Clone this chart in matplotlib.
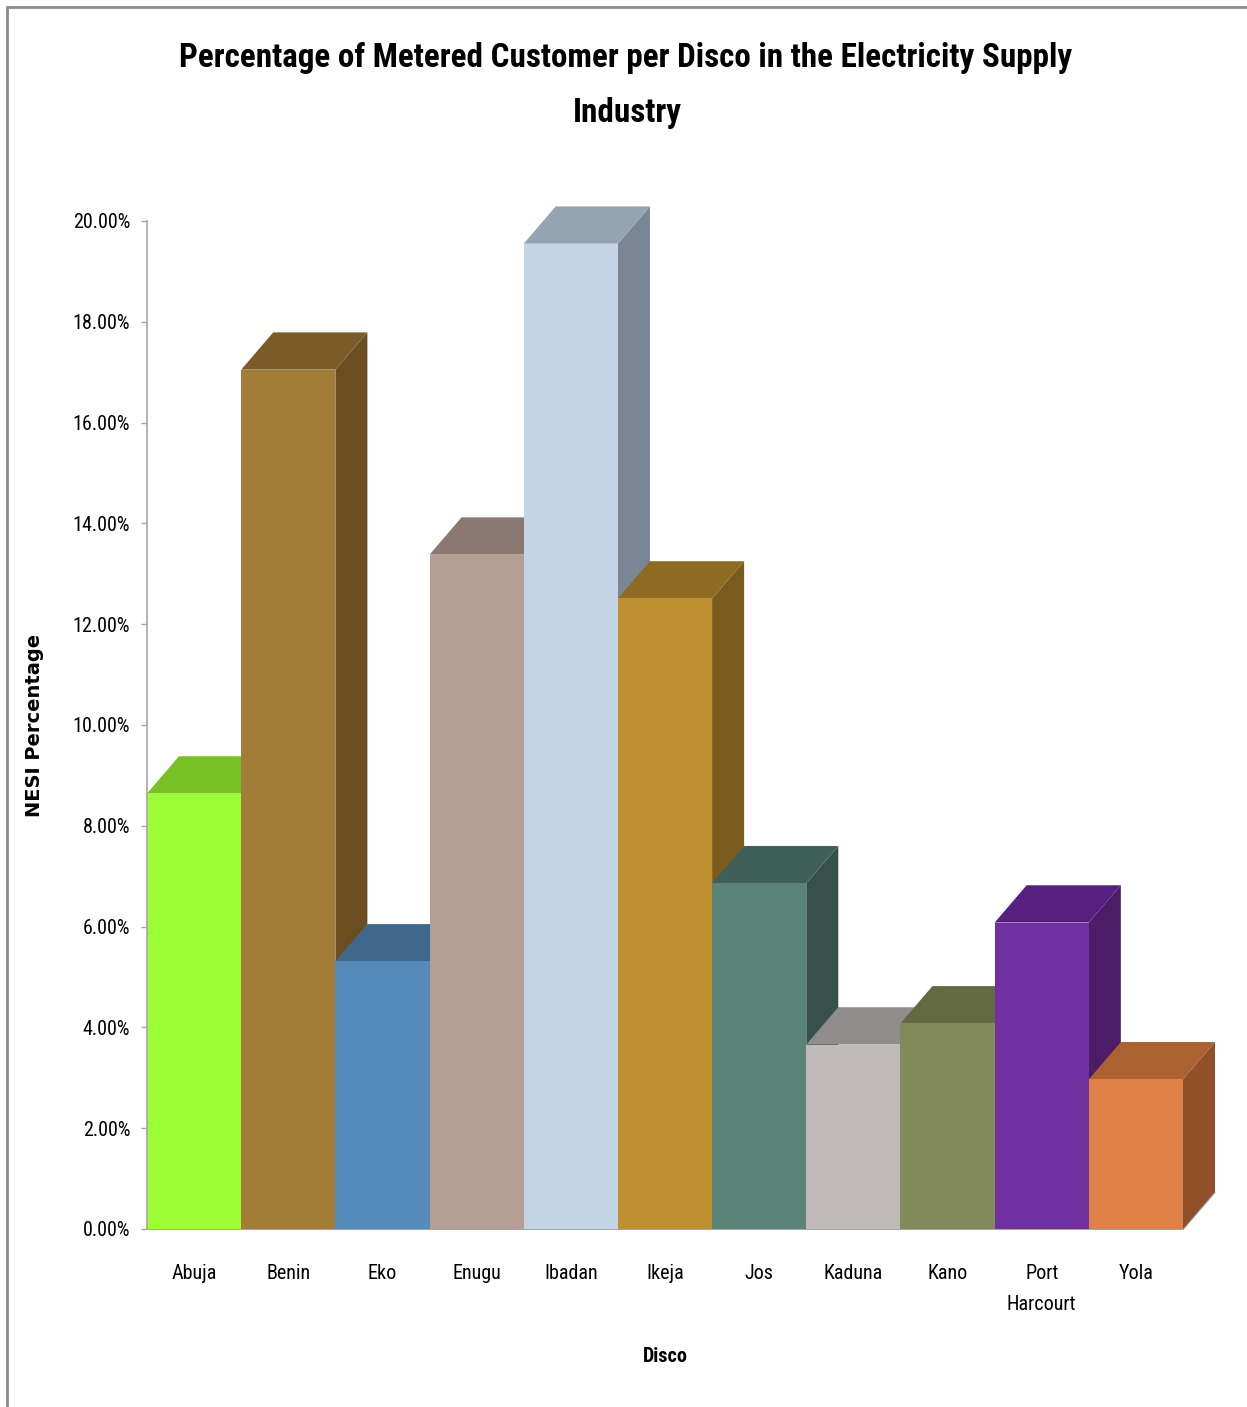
import matplotlib
matplotlib.use("Agg")
import matplotlib.pyplot as plt
import matplotlib.ticker as mticker
from matplotlib.patches import Polygon, Rectangle
from matplotlib import font_manager

# -----------------------------
# Data
# -----------------------------
discos = ["Abuja", "Benin", "Eko", "Enugu", "Ibadan", "Ikeja", "Jos",
          "Kaduna", "Kano", "Port\nHarcourt", "Yola"]
metered_pct = [8.64, 17.05, 5.31, 13.38, 19.55, 12.51, 6.86, 3.66, 4.08, 6.08, 2.97]

# front / top / side shades for each column
front_colors = ["#9BFF33", "#A37C38", "#558BBB", "#B59E94", "#C2D4E6", "#BE902F",
                "#5A8478", "#C0BABA", "#838A5A", "#7030A0", "#DF8146"]
top_colors = ["#77C026", "#7B5C28", "#40688C", "#8B7870", "#94A4B3", "#8E6B21",
              "#3F6058", "#928D8D", "#636943", "#571F80", "#AC6131"]
side_colors = ["#5E9A1E", "#6A4E22", "#345574", "#73635C", "#7A8694", "#7A5B1E",
               "#37514A", "#7A7575", "#535837", "#4A1D66", "#8F502A"]

# depth of the fake 3D extrusion, in data units
DEPTH_X = 0.34
DEPTH_Y = 0.74

# -----------------------------
# Fonts: use a condensed face when one is installed
# -----------------------------
def pick_condensed():
    for fam in ["Roboto Condensed", "Open Sans Condensed", "Liberation Sans Narrow",
                "Noto Sans", "DejaVu Sans", "Open Sans", "Roboto"]:
        try:
            path = font_manager.findfont(
                font_manager.FontProperties(family=fam, stretch="condensed"),
                fallback_to_default=False)
        except Exception:
            continue
        low = path.lower()
        if "condensed" in low or "narrow" in low:
            return fam, "condensed"
    return "Roboto", "normal"

NARROW, STRETCH = pick_condensed()
NFONT = dict(fontfamily=NARROW, fontstretch=STRETCH)


def fit_width(txt, target_px, renderer):
    # rescale a text so its rendered width hits target_px
    w = txt.get_window_extent(renderer).width
    txt.set_fontsize(txt.get_fontsize() * target_px / w)


# -----------------------------
# Figure
# -----------------------------
W, H = 1247, 1407
fig = plt.figure(figsize=(W / 100, H / 100), dpi=100)
ax = fig.add_axes([147 / W, (H - 1229) / H, 1036 / W, 1008 / H])

# outer frame (only the top and left edges fall inside the image)
fig.patches.append(Rectangle((7 / W, -0.1), 1.2, 1.1 - 7 / H, transform=fig.transFigure,
                             fill=False, edgecolor="#8C8C8C", linewidth=2, zorder=0))

x = list(range(len(discos)))
for i, (xi, v) in enumerate(zip(x, metered_pct)):
    z = 2 + i * 0.1
    x0, x1 = xi - 0.5, xi + 0.5
    side = Polygon([(x1, 0), (x1 + DEPTH_X, DEPTH_Y), (x1 + DEPTH_X, v + DEPTH_Y), (x1, v)],
                   closed=True, facecolor=side_colors[i], edgecolor="none", zorder=z, clip_on=False)
    top = Polygon([(x0, v), (x0 + DEPTH_X, v + DEPTH_Y), (x1 + DEPTH_X, v + DEPTH_Y), (x1, v)],
                  closed=True, facecolor=top_colors[i], edgecolor="none", zorder=z + 0.01, clip_on=False)
    ax.add_patch(side)
    ax.add_patch(top)
    ax.bar(xi, v, width=1.0, color=front_colors[i], edgecolor="none", zorder=z + 0.02, clip_on=False)

# floor edge
n = len(discos)
ax.plot([-0.5, n - 0.5, n - 0.5 + DEPTH_X], [0, 0, DEPTH_Y], color="#A6A6A6",
        linewidth=1.5, zorder=1, clip_on=False, solid_capstyle="butt")

ax.set_xlim(-0.5, n - 0.5)
ax.set_ylim(0, 20)
ax.set_yticks(range(0, 21, 2))
ax.yaxis.set_major_formatter(mticker.FuncFormatter(lambda v, _: f"{v:.2f}%"))
ax.set_xticks(x)
ax.set_xticklabels(discos, linespacing=1.8)

for s in ["top", "right", "bottom"]:
    ax.spines[s].set_visible(False)
ax.spines["left"].set_color("#A6A6A6")
ax.spines["left"].set_linewidth(1.2)

ax.tick_params(axis="y", length=4, width=1, color="#A6A6A6", pad=8)
ax.tick_params(axis="x", length=0, pad=25)

xl = ax.set_xlabel("Disco", fontweight="bold", labelpad=24, **NFONT)
ax.set_ylabel("NESI Percentage", fontfamily="DejaVu Sans", fontweight="bold", fontsize=14)
ax.yaxis.set_label_coords((44 - 147) / 1036, 0.5)

t1 = fig.text(626 / W, 1 - 58 / H,
              "Percentage of Metered Customer per Disco in the Electricity Supply",
              ha="center", va="center", fontweight="bold", fontsize=24, **NFONT)
t2 = fig.text(627 / W, 1 - 113 / H, "Industry",
              ha="center", va="center", fontweight="bold", fontsize=24, **NFONT)

# size the texts to the widths they occupy on the chart
renderer = fig.canvas.get_renderer()
fit_width(t1, 895, renderer)
t2.set_fontsize(t1.get_fontsize())
fit_width(xl, 45, renderer)

ytl = ax.get_yticklabels()
xtl = ax.get_xticklabels()
for lbl in ytl + xtl:
    lbl.set_fontfamily(NARROW)
    lbl.set_fontstretch(STRETCH)
    lbl.set_fontsize(15)
    lbl.set_color("black")
fig.canvas.draw()
scale = 58 / ytl[-1].get_window_extent(renderer).width
for lbl in ytl + xtl:
    lbl.set_fontsize(15 * scale)

fig.savefig("out.png", dpi=100)
